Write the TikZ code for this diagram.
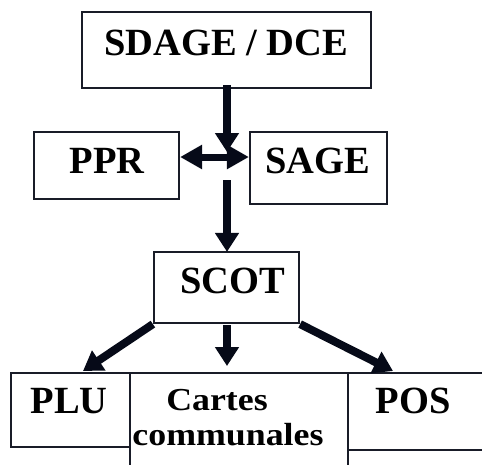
\documentclass[tikz,border=0pt]{standalone}
\usepackage{fontspec}
\setmainfont{Liberation Serif}
\newfontfamily\cartesfont[FakeStretch=1.12]{Liberation Serif}
\usetikzlibrary{arrows.meta}
\definecolor{ink}{RGB}{6,10,24}
\definecolor{frame}{RGB}{25,28,40}
\begin{document}
\begin{tikzpicture}[x=1pt,y=-1pt,
  box/.style={draw=frame, line width=2.2pt, rectangle, inner sep=0pt, fill=white},
  big/.style={inner sep=0pt, anchor=base, font=\bfseries\fontsize{38.5}{42}\selectfont},
  small/.style={inner sep=0pt, align=center, font=\cartesfont\bfseries\fontsize{32}{35.5}\selectfont},
  fat/.style={draw=ink, line width=8pt, -{Triangle[width=23pt,length=19pt]}},
  fatboth/.style={draw=ink, line width=7pt, {Triangle[width=23pt,length=22pt]}-{Triangle[width=23pt,length=22pt]}}]
\useasboundingbox (0,0) rectangle (482,464);
\clip (0,0) rectangle (482,464);
% boxes
\node[box, minimum width=289pt, minimum height=76pt] (sdage) at (226.5,50) {};
\node[box, minimum width=145pt, minimum height=67pt] (ppr) at (106.5,165.5) {};
\node[box, minimum width=137pt, minimum height=72pt] (sage) at (318.5,168) {};
\node[box, minimum width=145pt, minimum height=71pt] (scot) at (226.5,287.5) {};
\node[box, minimum width=119pt, minimum height=74pt] (plu) at (70.5,410) {};
\node[box, minimum width=152pt, minimum height=77pt] (pos) at (424,411.5) {};
\node[box, minimum width=218pt, minimum height=107pt] (cartes) at (239,426.5) {};
% texts
\node[big] (tsdage) at (226,55) {SDAGE / DCE};
\node[big] (tppr) at (107,173) {PPR};
\node[big] (tsage) at (318,173) {SAGE};
\node[big] (tscot) at (233,293) {SCOT};
\node[big] (tplu) at (69,413) {PLU};
\node[big] (tpos) at (413,413) {POS};
\node[small, anchor=base] (tcartes) at (228,445.5) {Cartes\hspace*{22pt}\\communales};
% junction coordinates
\coordinate (j1) at (227,152);
\coordinate (jh) at (227,157);
\coordinate (j2) at (227,180);
\coordinate (plutip) at (83,371);
\coordinate (postip) at (393,371);
\coordinate (cartip) at (227,366);
% connectors
\draw[fat] (sdage.south -| j1) ++(0,-4) -- (j1);
\draw[fatboth] (ppr.east |- jh) -- (sage.west |- jh);
\draw[fat] (j2) -- ([yshift=-1pt]scot.north -| j2);
\draw[fat] (scot.south west) -- (plutip);
\draw[fat] (scot.south -| cartip) ++(0,1) -- (cartip);
\draw[fat] (scot.south east) -- (postip);
\end{tikzpicture}
\end{document}
